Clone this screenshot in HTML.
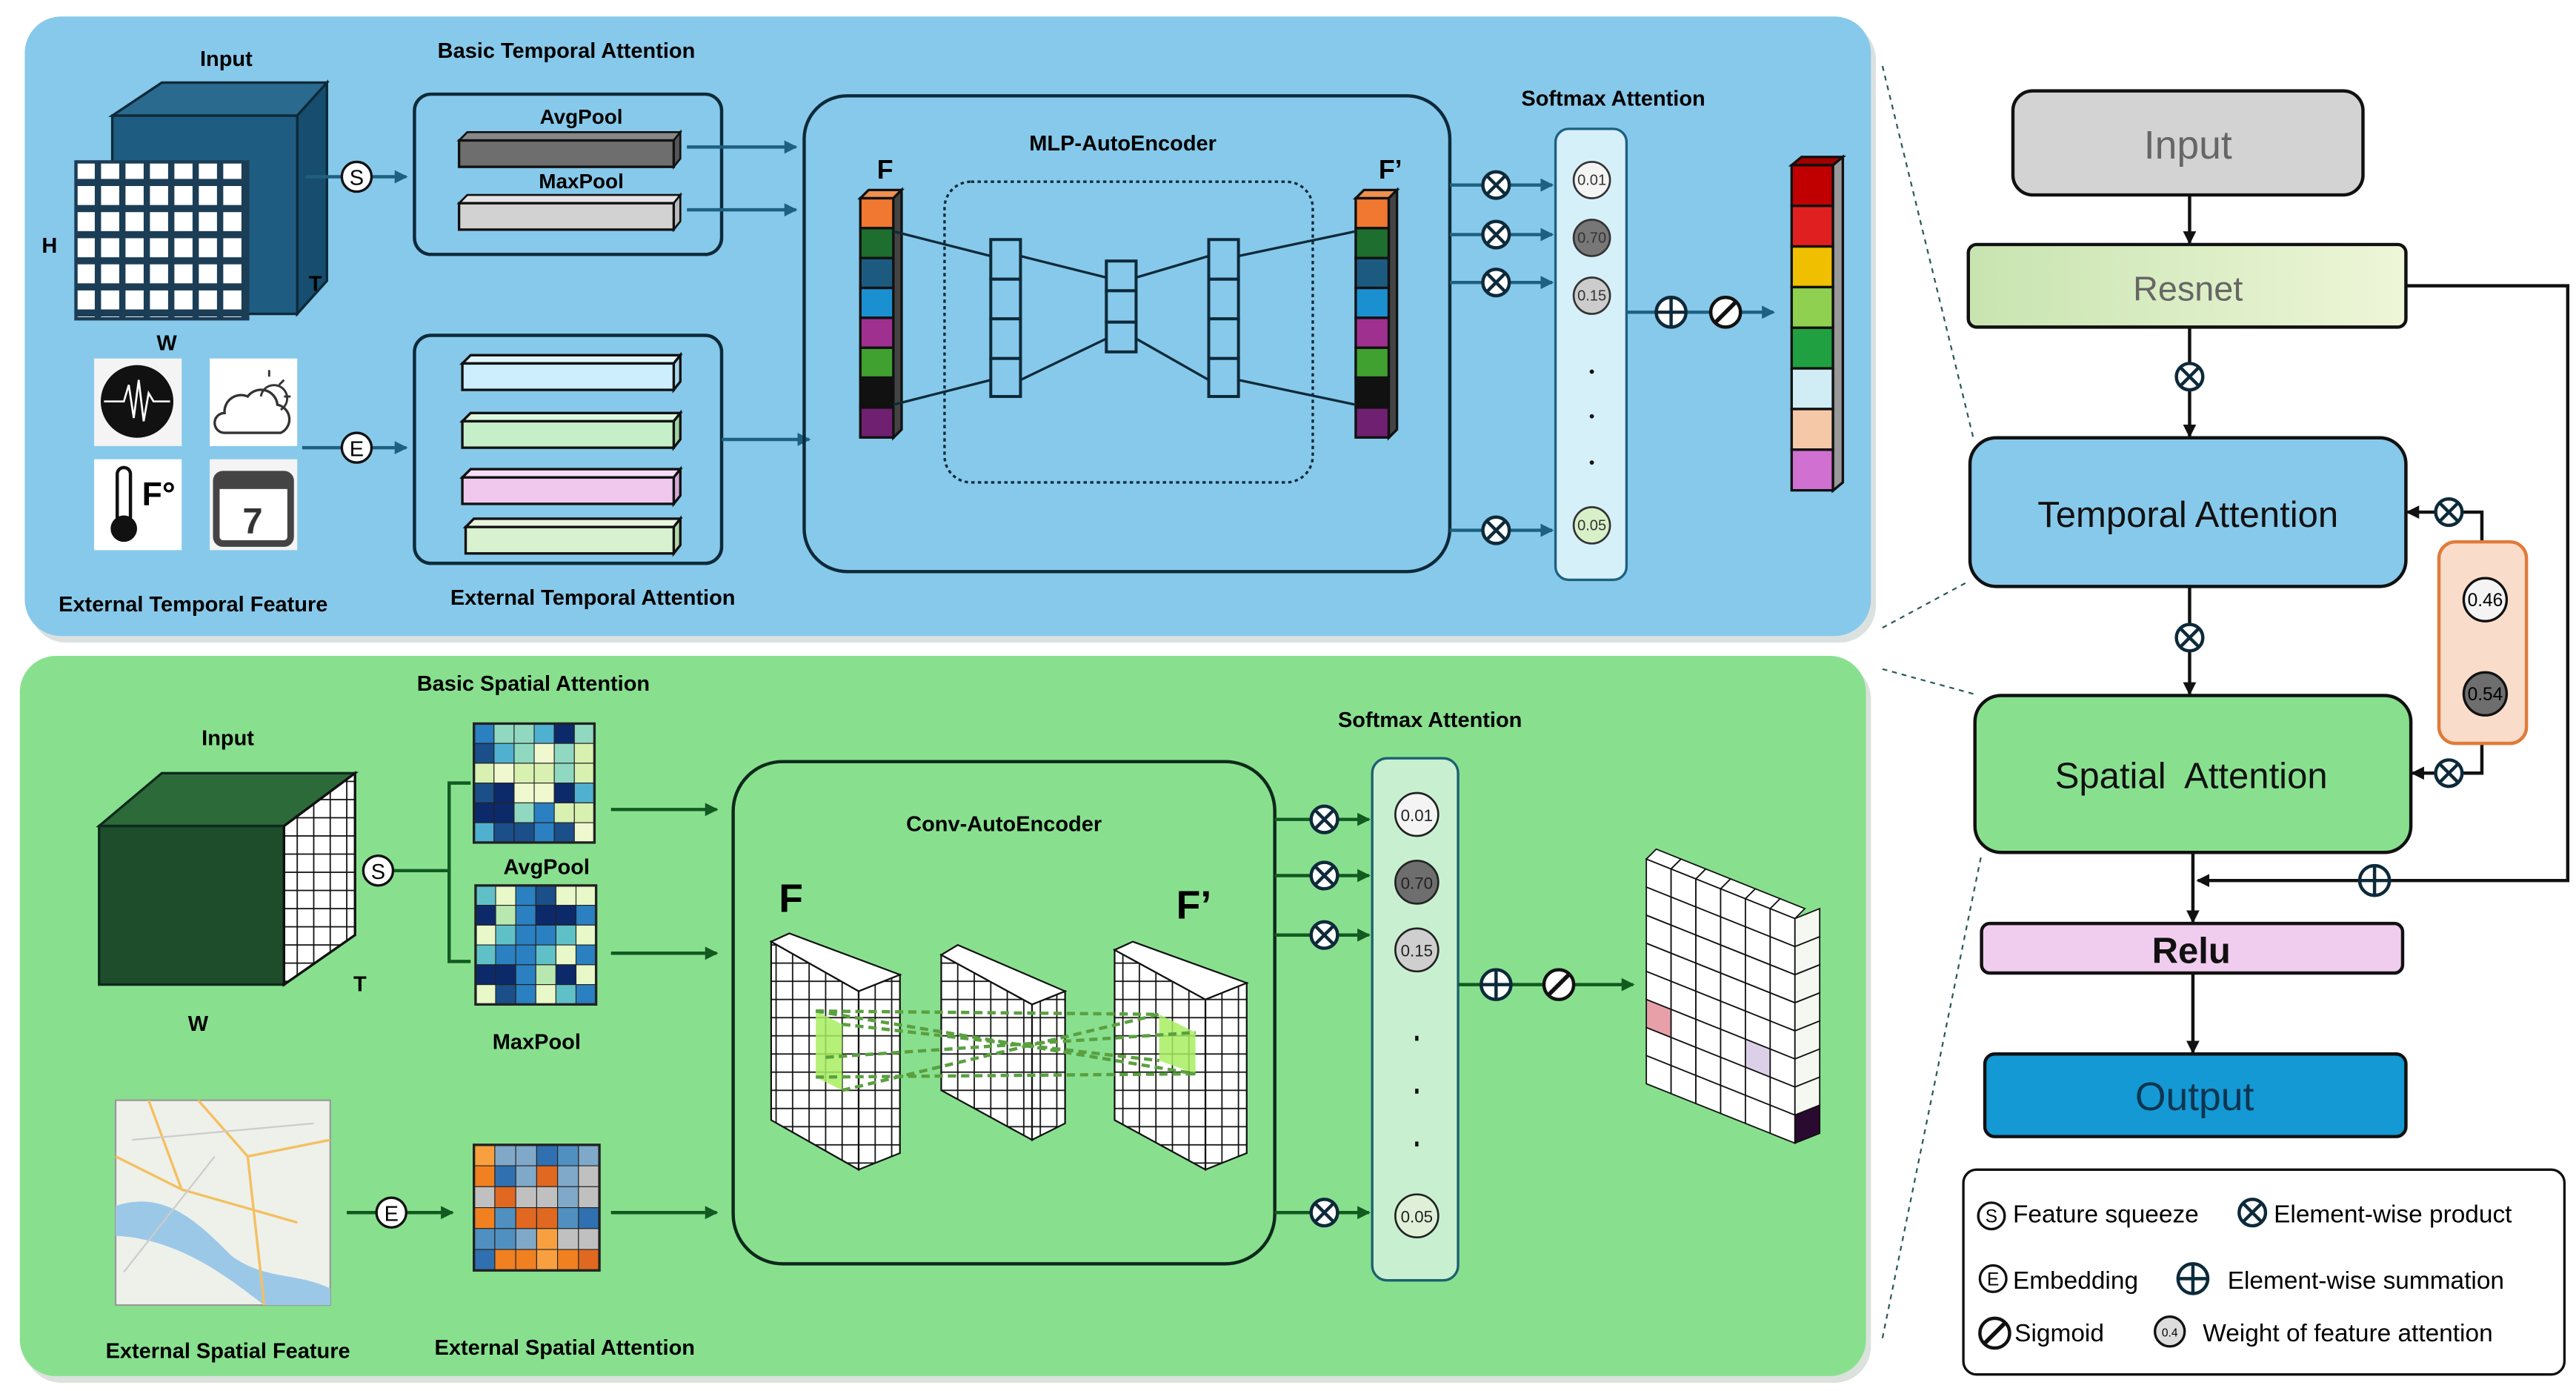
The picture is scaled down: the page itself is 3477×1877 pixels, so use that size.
<!DOCTYPE html>
<html><head><meta charset="utf-8"><style>
html,body{margin:0;padding:0;background:#fff}
svg{display:block}
text{font-family:"Liberation Sans",sans-serif}
.b{font-weight:bold}
</style></head><body>
<svg id="s" width="3477" height="1877" viewBox="0 0 1560 842" preserveAspectRatio="none" xmlns="http://www.w3.org/2000/svg">
<defs>
<pattern id="cell" x="0" y="0" width="14.8" height="15.8" patternUnits="userSpaceOnUse">
<rect x="0" y="0" width="14.8" height="15.8" fill="#1b3d55"/><rect x="2" y="2" width="11" height="11.5" fill="#fff"/>
</pattern>
<pattern id="wg" x="0" y="0" width="10" height="11" patternUnits="userSpaceOnUse">
<rect width="10" height="11" fill="#fff" stroke="#111" stroke-width="0.8"/>
</pattern>
<linearGradient id="rg" x1="0" x2="1"><stop offset="0" stop-color="#c8e4b0"/><stop offset="1" stop-color="#eef6d8"/></linearGradient>
<marker id="ab" markerWidth="8" markerHeight="8" refX="7" refY="4" orient="auto" markerUnits="userSpaceOnUse"><path d="M0,0L8,4L0,8z" fill="#1d6080"/></marker>
<marker id="ag" markerWidth="8" markerHeight="8" refX="7" refY="4" orient="auto" markerUnits="userSpaceOnUse"><path d="M0,0L8,4L0,8z" fill="#125a20"/></marker>
<marker id="ak" markerWidth="8" markerHeight="8" refX="7" refY="4" orient="auto" markerUnits="userSpaceOnUse"><path d="M0,0L8,4L0,8z" fill="#111"/></marker>
<g id="ot"><circle r="8" fill="#fff" stroke="#0d2a3a" stroke-width="2"/><path d="M-5.6,-5.6L5.6,5.6M5.6,-5.6L-5.6,5.6" stroke="#0d2a3a" stroke-width="2"/></g>
<g id="op"><circle r="9" fill="#fff" stroke="#0d2a3a" stroke-width="2"/><path d="M-9,0H9M0,-9V9" stroke="#0d2a3a" stroke-width="2"/></g>
<g id="sg"><circle r="9" fill="#fff" stroke="#111" stroke-width="2"/><path d="M-6,6L6,-6" stroke="#111" stroke-width="2.5"/></g>
</defs>

<rect x="18" y="14" width="1118" height="375" rx="22" fill="#9aa" opacity="0.35"/>
<rect x="15" y="10" width="1118" height="375" rx="22" fill="#87c9ea"/>
<rect x="15" y="401" width="1118" height="436" rx="22" fill="#9a9" opacity="0.35"/>
<rect x="12" y="397" width="1118" height="436" rx="22" fill="#88e08f"/>

<g stroke="#2a5a5a" stroke-width="1" stroke-dasharray="3,3" fill="none">
<path d="M1140,40L1195,265"/><path d="M1140,380L1192,352"/><path d="M1140,405L1195,420"/><path d="M1140,810L1200,517"/>
</g>

<text x="137" y="40" class="b" font-size="13" text-anchor="middle">Input</text>
<text x="343" y="35" class="b" font-size="13" text-anchor="middle">Basic Temporal Attention</text>
<polygon points="68,70 98,50 198,50 180,70" fill="#2a6a8e" stroke="#0d2a3a" stroke-width="1.5"/>
<polygon points="180,70 198,50 198,170 180,190" fill="#174d6e" stroke="#0d2a3a" stroke-width="1.5"/>
<rect x="68" y="70" width="112" height="120" fill="#1f5c82" stroke="#0d2a3a" stroke-width="1.5"/>
<rect x="46" y="98" width="104" height="95" fill="url(#cell)" stroke="#1b3d55" stroke-width="2"/>
<text x="30" y="153" class="b" font-size="13" text-anchor="middle">H</text>
<text x="191" y="176" class="b" font-size="13" text-anchor="middle">T</text>
<text x="101" y="212" class="b" font-size="13" text-anchor="middle">W</text>
<line x1="185" y1="107" x2="246" y2="107" stroke="#1d6080" stroke-width="2" marker-end="url(#ab)"/>
<circle cx="216" cy="107" r="9" fill="#fff" stroke="#111" stroke-width="1.5"/><text x="216" y="112" font-size="13" text-anchor="middle">S</text>

<rect x="251" y="57" width="186" height="97" rx="10" fill="none" stroke="#0d2a3a" stroke-width="2"/>
<text x="352" y="75" class="b" font-size="12.5" text-anchor="middle">AvgPool</text>
<polygon points="278,85 283,80 412,80 408,85" fill="#888" stroke="#111" stroke-width="1.2"/><polygon points="408,85 412,80 412,96 408,101" fill="#555" stroke="#111" stroke-width="1.2"/>
<rect x="278" y="85" width="130" height="16" fill="#6e6e6e" stroke="#111" stroke-width="1.5"/>
<text x="352" y="114" class="b" font-size="12.5" text-anchor="middle">MaxPool</text>
<polygon points="278,123 283,118 412,118 408,123" fill="#e4e4e4" stroke="#111" stroke-width="1.2"/><polygon points="408,123 412,118 412,134 408,139" fill="#bbb" stroke="#111" stroke-width="1.2"/>
<rect x="278" y="123" width="130" height="16" fill="#d2d2d2" stroke="#111" stroke-width="1.5"/>
<line x1="416" y1="89" x2="482" y2="89" stroke="#1d6080" stroke-width="2" marker-end="url(#ab)"/>
<line x1="416" y1="127" x2="482" y2="127" stroke="#1d6080" stroke-width="2" marker-end="url(#ab)"/>

<rect x="57" y="217" width="53" height="53" fill="#f4f4f4"/><circle cx="83" cy="243" r="22" fill="#111"/><path d="M63,243H75L78,233L81,253L84,230L87,255L90,238L93,243H103" stroke="#fff" stroke-width="1.2" fill="none"/>
<rect x="127" y="217" width="53" height="53" fill="#fff"/><path d="M136,262H170A9,9 0 0 0 168,245A10,10 0 0 0 150,240A10,10 0 0 0 136,250A6,6 0 0 0 136,262Z" fill="#fff" stroke="#333" stroke-width="1.5"/><path d="M158,240A8,8 0 1 1 170,248M163,224V228M172,230L169,233M176,240H172" stroke="#333" stroke-width="1.3" fill="none"/>
<rect x="57" y="278" width="53" height="55" fill="#fff"/><rect x="71" y="283" width="8" height="34" rx="4" fill="#fff" stroke="#111" stroke-width="2"/><circle cx="75" cy="320" r="8" fill="#111"/><text x="86" y="306" class="b" font-size="20">F°</text>
<rect x="127" y="278" width="53" height="55" fill="#f4f4f4"/><rect x="131" y="287" width="45" height="42" rx="4" fill="#fff" stroke="#444" stroke-width="4"/><rect x="131" y="287" width="45" height="9" fill="#444"/><text x="153" y="323" class="b" font-size="22" text-anchor="middle" fill="#333">7</text>
<line x1="183" y1="271" x2="246" y2="271" stroke="#1d6080" stroke-width="2" marker-end="url(#ab)"/>
<circle cx="216" cy="271" r="9" fill="#fff" stroke="#111" stroke-width="1.5"/><text x="216" y="276" font-size="13" text-anchor="middle">E</text>

<rect x="251" y="203" width="186" height="138" rx="10" fill="none" stroke="#0d2a3a" stroke-width="2"/>
<g stroke="#111" stroke-width="1.5">
<polygon points="280,220 285,215 412,215 408,220" fill="#e0f6ff"/><polygon points="408,220 412,215 412,231 408,236" fill="#a8d8ee"/><rect x="280" y="220" width="128" height="16" fill="#cdeefc"/>
<polygon points="280,255 285,250 412,250 408,255" fill="#dcf8de"/><polygon points="408,255 412,250 412,266 408,271" fill="#9ed4a2"/><rect x="280" y="255" width="128" height="16" fill="#c5efc8"/>
<polygon points="280,289 285,284 412,284 408,289" fill="#f8def6"/><polygon points="408,289 412,284 412,300 408,305" fill="#d8a8d6"/><rect x="280" y="289" width="128" height="16" fill="#f0c8ee"/>
<polygon points="282,319 287,314 412,314 408,319" fill="#e8f8e0"/><polygon points="408,319 412,314 412,330 408,335" fill="#b0d8a8"/><rect x="282" y="319" width="126" height="16" fill="#d8f2d0"/>
</g>
<line x1="437" y1="266" x2="490" y2="266" stroke="#1d6080" stroke-width="2" marker-end="url(#ab)"/>
<text x="117" y="370" class="b" font-size="13" text-anchor="middle">External Temporal Feature</text>
<text x="359" y="366" class="b" font-size="13" text-anchor="middle">External Temporal Attention</text>

<rect x="487" y="58" width="391" height="288" rx="26" fill="none" stroke="#0d2a3a" stroke-width="2"/>
<text x="680" y="91" class="b" font-size="13" text-anchor="middle">MLP-AutoEncoder</text>
<text x="536" y="108" class="b" font-size="16" text-anchor="middle">F</text>
<text x="842" y="108" class="b" font-size="16" text-anchor="middle">F’</text>
<rect x="572" y="110" width="223" height="182" rx="16" fill="none" stroke="#0d2a3a" stroke-width="1.5" stroke-dasharray="2,2"/>
<g id="col1" stroke="#111" stroke-width="1.5"></g>
<g stroke="#0d2a3a" stroke-width="1.5" fill="none">
<path d="M541,140L600,155M541,245L600,230M618,155L670,168M618,230L670,205M688,168L732,155M688,205L732,230M750,155L821,140M750,230L821,245"/>
</g>
<g stroke="#0d2a3a" stroke-width="1.8" fill="#87c9ea">
<rect x="600" y="145" width="18" height="24"/><rect x="600" y="169" width="18" height="24"/><rect x="600" y="193" width="18" height="24"/><rect x="600" y="217" width="18" height="23"/>
<rect x="670" y="158" width="18" height="18"/><rect x="670" y="176" width="18" height="19"/><rect x="670" y="195" width="18" height="18"/>
<rect x="732" y="145" width="18" height="24"/><rect x="732" y="169" width="18" height="24"/><rect x="732" y="193" width="18" height="24"/><rect x="732" y="217" width="18" height="23"/>
</g>

<text x="977" y="64" class="b" font-size="13" text-anchor="middle">Softmax Attention</text>
<g stroke="#1d6080" stroke-width="2">
<line x1="878" y1="112" x2="940" y2="112" marker-end="url(#ab)"/><line x1="878" y1="142" x2="940" y2="142" marker-end="url(#ab)"/><line x1="878" y1="171" x2="940" y2="171" marker-end="url(#ab)"/><line x1="878" y1="321" x2="940" y2="321" marker-end="url(#ab)"/>
</g>
<use href="#ot" x="906" y="112"/><use href="#ot" x="906" y="142"/><use href="#ot" x="906" y="171"/><use href="#ot" x="906" y="321"/>
<rect x="942" y="78" width="43" height="273" rx="8" fill="#d6f0fa" stroke="#1d6080" stroke-width="1.5"/>
<g stroke="#333" stroke-width="1.2">
<circle cx="964" cy="109" r="11" fill="#f4f4f4"/><circle cx="964" cy="144" r="11" fill="#777"/><circle cx="964" cy="179" r="11" fill="#ccc"/><circle cx="964" cy="318" r="11" fill="#d8f0c8"/>
</g>
<g font-size="9" text-anchor="middle" fill="#333"><text x="964" y="112">0.01</text><text x="964" y="147">0.70</text><text x="964" y="182">0.15</text><text x="964" y="321">0.05</text></g>
<g fill="#111"><circle cx="964" cy="225" r="1.3"/><circle cx="964" cy="252" r="1.3"/><circle cx="964" cy="280" r="1.3"/></g>
<line x1="985" y1="189" x2="1074" y2="189" stroke="#1d6080" stroke-width="2" marker-end="url(#ab)"/>
<use href="#op" x="1012" y="189"/><use href="#sg" x="1045" y="189"/>
<g id="outcol" stroke="#111" stroke-width="1.5"></g>

<text x="323" y="418" class="b" font-size="13" text-anchor="middle">Basic Spatial Attention</text>
<text x="138" y="451" class="b" font-size="13" text-anchor="middle">Input</text>
<polygon points="60,500 98,468 215,468 172,500" fill="#2c6a3a" stroke="#0d2a1a" stroke-width="1.5"/>
<rect x="60" y="500" width="112" height="96" fill="#1e4d2b" stroke="#0d2a1a" stroke-width="1.5"/>
<polygon points="172,500 215,468 215,566 172,596" fill="url(#wg)" stroke="#111" stroke-width="1.5"/>
<text x="218" y="600" class="b" font-size="13" text-anchor="middle">T</text>
<text x="120" y="624" class="b" font-size="13" text-anchor="middle">W</text>
<line x1="238" y1="527" x2="272" y2="527" stroke="#125a20" stroke-width="2"/>
<circle cx="229" cy="527" r="9" fill="#fff" stroke="#111" stroke-width="1.5"/><text x="229" y="532" font-size="13" text-anchor="middle">S</text>
<path d="M285,474H272V582H285" fill="none" stroke="#125a20" stroke-width="2"/>
<g id="hm1"></g><g id="hm2"></g><g id="hm3"></g>
<text x="331" y="529" class="b" font-size="13" text-anchor="middle">AvgPool</text>
<text x="325" y="635" class="b" font-size="13" text-anchor="middle">MaxPool</text>
<g stroke="#125a20" stroke-width="2">
<line x1="370" y1="490" x2="434" y2="490" marker-end="url(#ag)"/><line x1="370" y1="577" x2="434" y2="577" marker-end="url(#ag)"/>
<line x1="210" y1="734" x2="274" y2="734" marker-end="url(#ag)"/><line x1="370" y1="734" x2="434" y2="734" marker-end="url(#ag)"/>
</g>
<rect x="70" y="666" width="130" height="124" fill="#eef0ea" stroke="#999"/>
<path d="M70,730C100,720 120,740 140,760C160,775 180,770 200,780L200,790L160,790C140,775 110,750 70,748Z" fill="#9cc8e8"/>
<path d="M120,666L150,700L200,690M90,666L110,720L70,700M150,700L160,790M110,720L180,740" stroke="#f3c060" stroke-width="1.5" fill="none"/>
<path d="M80,690L190,680M75,770L130,700" stroke="#ccc" stroke-width="1" fill="none"/>
<circle cx="237" cy="734" r="9" fill="#fff" stroke="#111" stroke-width="1.5"/><text x="237" y="739" font-size="13" text-anchor="middle">E</text>
<text x="138" y="822" class="b" font-size="13" text-anchor="middle">External Spatial Feature</text>
<text x="342" y="820" class="b" font-size="13" text-anchor="middle">External Spatial Attention</text>

<rect x="444" y="461" width="328" height="304" rx="30" fill="none" stroke="#0d2a1a" stroke-width="2"/>
<text x="608" y="503" class="b" font-size="13" text-anchor="middle">Conv-AutoEncoder</text>
<text x="479" y="552" class="b" font-size="24" text-anchor="middle">F</text>
<text x="723" y="556" class="b" font-size="24" text-anchor="middle">F’</text>
<g stroke="#111" stroke-width="1">
<polygon points="467,570 520,600 520,708 467,678" fill="url(#wg)"/><polygon points="520,600 545,590 545,698 520,708" fill="url(#wg)"/><polygon points="467,570 478,565 545,590 520,600" fill="#fff"/>
<polygon points="570,578 625,608 625,690 570,660" fill="url(#wg)"/><polygon points="625,608 645,600 645,680 625,690" fill="url(#wg)"/><polygon points="570,578 580,572 645,600 625,608" fill="#fff"/>
<polygon points="675,575 730,605 730,708 675,678" fill="url(#wg)"/><polygon points="730,605 755,595 755,698 730,708" fill="url(#wg)"/><polygon points="675,575 686,570 755,595 730,605" fill="#fff"/>
</g>
<polygon points="494,612 510,620 510,660 494,652" fill="#a8ee60" opacity="0.85"/>
<polygon points="702,614 724,625 724,650 702,642" fill="#a8ee60" opacity="0.85"/>
<g stroke="#5aa040" stroke-width="2" stroke-dasharray="5,3" fill="none">
<path d="M494,612L702,614M494,612L724,650M510,660L702,614M500,640L724,625M494,652L724,650M510,620L702,642"/>
</g>

<text x="866" y="440" class="b" font-size="13" text-anchor="middle">Softmax Attention</text>
<g stroke="#125a20" stroke-width="2">
<line x1="772" y1="496" x2="829" y2="496" marker-end="url(#ag)"/><line x1="772" y1="530" x2="829" y2="530" marker-end="url(#ag)"/><line x1="772" y1="566" x2="829" y2="566" marker-end="url(#ag)"/><line x1="772" y1="734" x2="829" y2="734" marker-end="url(#ag)"/>
</g>
<use href="#ot" x="802" y="496"/><use href="#ot" x="802" y="530"/><use href="#ot" x="802" y="566"/><use href="#ot" x="802" y="734"/>
<rect x="831" y="459" width="52" height="316" rx="9" fill="#c8f0d0" stroke="#1d6070" stroke-width="1.5"/>
<g stroke="#222" stroke-width="1.2">
<circle cx="858" cy="493" r="13" fill="#f4f4f4"/><circle cx="858" cy="534" r="13" fill="#6e6e6e"/><circle cx="858" cy="575" r="13" fill="#cfcfcf"/><circle cx="858" cy="736" r="13" fill="#e0f0d8"/>
</g>
<g font-size="10" text-anchor="middle" fill="#222"><text x="858" y="497">0.01</text><text x="858" y="538">0.70</text><text x="858" y="579">0.15</text><text x="858" y="740">0.05</text></g>
<g fill="#111"><rect x="857" y="627" width="2" height="3"/><rect x="857" y="659" width="2" height="3"/><rect x="857" y="691" width="2" height="3"/></g>
<line x1="883" y1="596" x2="989" y2="596" stroke="#125a20" stroke-width="2" marker-end="url(#ag)"/>
<use href="#op" x="906" y="596"/><use href="#sg" x="944" y="596"/>
<g id="outgrid" stroke="#111" stroke-width="0.8"></g>

<g stroke="#111" stroke-width="2">
<rect x="1219" y="55" width="212" height="63" rx="12" fill="#d3d3d3"/>
<rect x="1192" y="148" width="265" height="50" rx="5" fill="url(#rg)"/>
<rect x="1193" y="265" width="264" height="90" rx="16" fill="#87c9ea"/>
<rect x="1196" y="421" width="264" height="95" rx="16" fill="#88e08f"/>
<rect x="1200" y="559" width="255" height="30" rx="5" fill="#f0cdee"/>
<rect x="1202" y="638" width="255" height="50" rx="6" fill="#1499d4"/>
</g>
<text x="1325" y="96" font-size="24" text-anchor="middle" fill="#666">Input</text>
<text x="1325" y="182" font-size="21" text-anchor="middle" fill="#666">Resnet</text>
<text x="1325" y="319" font-size="22" text-anchor="middle" fill="#111">Temporal Attention</text>
<text x="1327" y="477" font-size="22" text-anchor="middle" fill="#111" xml:space="preserve">Spatial  Attention</text>
<text x="1327" y="583" class="b" font-size="22" text-anchor="middle" fill="#111">Relu</text>
<text x="1329" y="672" font-size="24" text-anchor="middle" fill="#0d3550">Output</text>
<g stroke="#111" stroke-width="2" fill="none">
<line x1="1326" y1="118" x2="1326" y2="147" marker-end="url(#ak)"/>
<line x1="1326" y1="198" x2="1326" y2="264" marker-end="url(#ak)"/>
<line x1="1326" y1="355" x2="1326" y2="420" marker-end="url(#ak)"/>
<line x1="1328" y1="516" x2="1328" y2="558" marker-end="url(#ak)"/>
<line x1="1328" y1="589" x2="1328" y2="637" marker-end="url(#ak)"/>
<path d="M1457,173H1555V533H1331" marker-end="url(#ak)"/>
<line x1="1475" y1="310" x2="1458" y2="310" marker-end="url(#ak)"/>
<line x1="1475" y1="468" x2="1461" y2="468" marker-end="url(#ak)"/>
<path d="M1491,310H1503V328M1491,468H1503V450"/>
</g>
<use href="#ot" x="1326" y="228"/><use href="#ot" x="1326" y="386"/>
<use href="#ot" x="1483" y="310"/><use href="#ot" x="1483" y="468"/>
<use href="#op" x="1438" y="533"/>
<rect x="1477" y="328" width="53" height="122" rx="10" fill="#fadccb" stroke="#e07b39" stroke-width="2"/>
<circle cx="1505" cy="363" r="13" fill="#f4f4f4" stroke="#111" stroke-width="1.5"/><text x="1505" y="367" font-size="11" text-anchor="middle">0.46</text>
<circle cx="1505" cy="420" r="13" fill="#6e6e6e" stroke="#111" stroke-width="1.5"/><text x="1505" y="424" font-size="11" text-anchor="middle">0.54</text>

<rect x="1189" y="708" width="364" height="124" rx="8" fill="#fff" stroke="#111" stroke-width="1.5"/>
<circle cx="1206" cy="736" r="8" fill="#fff" stroke="#111" stroke-width="1.5"/><text x="1206" y="740" font-size="11" text-anchor="middle">S</text>
<text x="1219" y="740" font-size="15">Feature squeeze</text>
<use href="#ot" x="1364" y="734"/><text x="1377" y="740" font-size="15">Element-wise product</text>
<circle cx="1207" cy="774" r="8" fill="#fff" stroke="#111" stroke-width="1.5"/><text x="1207" y="778" font-size="11" text-anchor="middle">E</text>
<text x="1219" y="780" font-size="15">Embedding</text>
<use href="#op" x="1328" y="774"/><text x="1349" y="780" font-size="15">Element-wise summation</text>
<use href="#sg" x="1208" y="807"/><text x="1220" y="812" font-size="15">Sigmoid</text>
<circle cx="1314" cy="806" r="9" fill="#ddd" stroke="#111" stroke-width="1.5"/><text x="1314" y="809" font-size="7" text-anchor="middle">0.4</text>
<text x="1334" y="812" font-size="15">Weight of feature attention</text>
</svg>
<script>
var NS="http://www.w3.org/2000/svg";
function R(g,x,y,w,h,f){var r=document.createElementNS(NS,"rect");r.setAttribute("x",x);r.setAttribute("y",y);r.setAttribute("width",w);r.setAttribute("height",h);r.setAttribute("fill",f);g.appendChild(r);return r;}
function P(g,pts,f){var p=document.createElementNS(NS,"polygon");p.setAttribute("points",pts);p.setAttribute("fill",f);g.appendChild(p);}
var cols=["#f07830","#1e6e30","#1d5a80","#1a90d0","#a03090","#40a030","#111","#702070"];
var g=document.getElementById("col1");
[521,821].forEach(function(x){
P(g,x+",120 "+(x+5)+",115 "+(x+25)+",115 "+(x+20)+",120","#f09050");
P(g,(x+20)+",120 "+(x+25)+",115 "+(x+25)+",260 "+(x+20)+",265","#444");
for(var i=0;i<8;i++)R(g,x,120+i*18.1,20,18.1,cols[i]);});
var oc=["#c00000","#e02020","#f0c000","#90d050","#20a040","#d0ecf5","#f5c8a8","#d070d0"];
var o=document.getElementById("outcol");
P(o,"1085,100 1091,95 1116,95 1110,100","#a00000");
P(o,"1110,100 1116,95 1116,292 1110,297","#999");
for(var i=0;i<8;i++)R(o,1085,100+i*24.6,25,24.6,oc[i]);
function hm(id,x,y,w,h,pal){var g=document.getElementById(id);g.setAttribute("stroke","#222");g.setAttribute("stroke-width","0.5");var n=6,s=1;
for(var i=0;i<n;i++)for(var j=0;j<n;j++){s=(s*9301+49297+i*7+j*13)%233280;R(g,x+j*w/n,y+i*h/n,w/n,h/n,pal[s%pal.length]);}
var b=R(g,x,y,w,h,"none");b.setAttribute("stroke-width","1.5");}
hm("hm1",287,438,73,72,["#1a4f8a","#2a80c0","#50b0d0","#90d8c0","#d8f0b0","#f0f8d0","#0c2a6a"]);
hm("hm2",288,536,73,72,["#0c2a6a","#2a80c0","#60c0c8","#b8e8b0","#e8f8c8","#1a4f8a"]);
hm("hm3",287,693,76,76,["#f08020","#f8a040","#3070b0","#80a8c8","#c0c0c0","#e06820","#5090c0"]);
var og=document.getElementById("outgrid");
var cc=["#fff","#fff","#fff","#dcd0e8","#b8d8c8","#a8e860","#f0b0b8","#6070e8","#e8a0a8","#fff","#80a8e0","#c0d8c0","#a0a0a0","#f8d060","#fff","#e0c8e0"];
var s=7;
for(var i=0;i<8;i++)for(var j=0;j<6;j++){var x0=997+j*15,y0=520+i*17+j*6;s=(s*37+11)%97;var f=(i>1&&i<7&&s%3==0)?cc[s%cc.length]:"#fff";
P(og,x0+","+y0+" "+(x0+15)+","+(y0+6)+" "+(x0+15)+","+(y0+23)+" "+x0+","+(y0+17),f);}
for(var j=0;j<6;j++){var x0=997+j*15,y0=520+j*6;P(og,x0+","+y0+" "+(x0+6)+","+(y0-6)+" "+(x0+21)+","+y0+" "+(x0+15)+","+(y0+6),"#fff");}
for(var i=0;i<8;i++){var y0=556+i*17;P(og,"1087,"+y0+" 1102,"+(y0-6)+" 1102,"+(y0+11)+" 1087,"+(y0+17),i==7?"#2a0a30":"#f4f8f0");}
</script>
</body></html>
